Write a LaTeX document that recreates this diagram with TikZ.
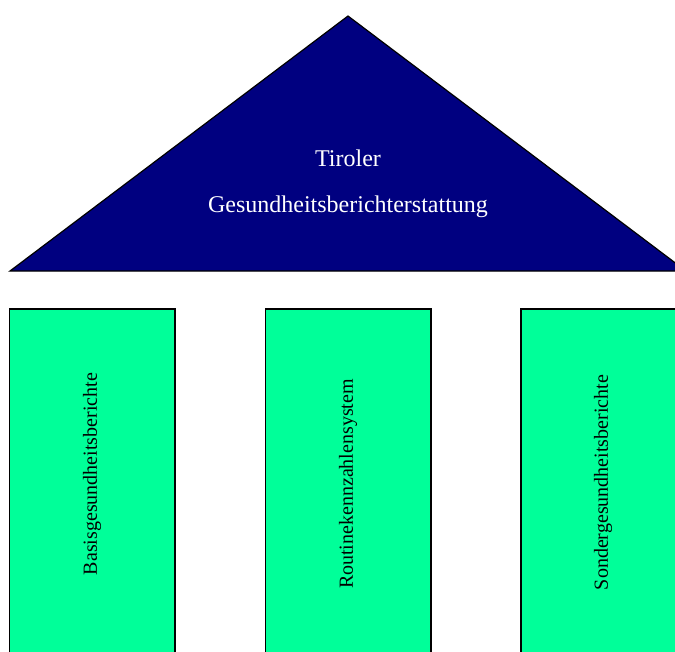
\documentclass[tikz,border=0pt]{standalone}
\usepackage{fontspec}
\setmainfont{Liberation Serif}
\definecolor{roofblue}{RGB}{0,0,128}
\definecolor{pillargreen}{RGB}{0,255,153}
\begin{document}
\begin{tikzpicture}[x=1pt,y=-1pt,
  roof/.style={fill=roofblue,draw=black,line width=1.2pt,line join=miter},
  pillar/.style={fill=pillargreen,draw=black,line width=1.2pt},
  rooftext/.style={text=white,font=\fontsize{24}{28}\selectfont,inner sep=0pt},
  pillartext/.style={rotate=90,font=\fontsize{20}{24}\selectfont,inner sep=0pt}]
\useasboundingbox (0,0) rectangle (675,651);
\clip (0,0) rectangle (675,651);
\coordinate (apex) at (348,16);
\coordinate (bl) at (10,271);
\coordinate (br) at (686,271);
\draw[roof] (apex) -- (bl) -- (br) -- cycle;
\node[rooftext,anchor=base] (t1) at (348,166) {Tiroler};
\node[rooftext,anchor=base] (t2) at (348,212) {Gesundheitsberichterstattung};
\draw[pillar] (9.5,309) rectangle (175,700);
\draw[pillar] (265.5,309) rectangle (431,700);
\draw[pillar] (521,309) rectangle (686,700);
\node[pillartext] (p1) at (92,474) {Basisgesundheitsberichte};
\node[pillartext] (p2) at (348,484) {Routinekennzahlensystem};
\node[pillartext] (p3) at (603,482.5) {Sondergesundheitsberichte};
\end{tikzpicture}
\end{document}
